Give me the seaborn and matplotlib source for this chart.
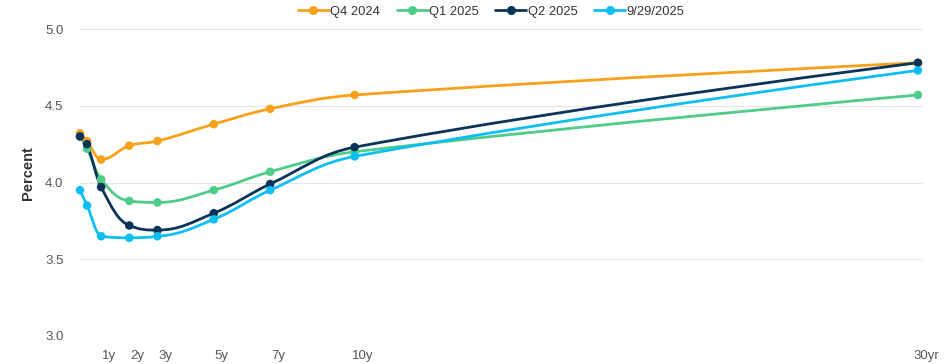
import numpy as np
import pandas as pd
import matplotlib
matplotlib.use("Agg")
import matplotlib.pyplot as plt
import matplotlib.transforms as mtransforms
from matplotlib.path import Path
from matplotlib.patches import PathPatch
from matplotlib.lines import Line2D
import seaborn as sns

maturities = [0.25, 0.5, 1, 2, 3, 5, 7, 10, 30]
q4_2024 = [4.32, 4.27, 4.15, 4.24, 4.27, 4.38, 4.48, 4.57, 4.78]
q1_2025 = [4.30, 4.22, 4.02, 3.88, 3.87, 3.95, 4.07, 4.20, 4.57]
q2_2025 = [4.30, 4.25, 3.97, 3.72, 3.69, 3.80, 3.99, 4.23, 4.78]
sep_2025 = [3.95, 3.85, 3.65, 3.64, 3.65, 3.76, 3.95, 4.17, 4.73]
series_names = ["Q4 2024", "Q1 2025", "Q2 2025", "9/29/2025"]
tick_years = [1, 2, 3, 5, 7, 10, 30]
tick_labels = ["1y", "2y", "3y", "5y", "7y", "10y", "30yr"]
colors = ["#F9A11B", "#4FCB8A", "#0A3558", "#0DBEF5"]

rows = []
for name, vals in zip(series_names, [q4_2024, q1_2025, q2_2025, sep_2025]):
    for m, v in zip(maturities, vals):
        rows.append({"Maturity": m, "Percent": v, "Series": name})
df = pd.DataFrame(rows)

sns.set_theme(style="white")
plt.rcParams["font.family"] = ["Liberation Sans", "DejaVu Sans"]

fig = plt.figure(figsize=(9.49, 3.64), dpi=100)
W, H = 949, 364
ax = fig.add_axes([80 / W, (364 - 336) / H, (923 - 80) / W, (336 - 29) / H])


def spline_path(xs, ys, smoothing=1.5):
    n = len(xs)
    denom = smoothing + 1
    lc = [None] * n
    rc = [None] * n
    for i in range(1, n - 1):
        px, py = xs[i], ys[i]
        lx, ly = xs[i - 1], ys[i - 1]
        nx, ny = xs[i + 1], ys[i + 1]
        lcx = (smoothing * px + lx) / denom
        lcy = (smoothing * py + ly) / denom
        rcx = (smoothing * px + nx) / denom
        rcy = (smoothing * py + ny) / denom
        if rcx != lcx:
            corr = ((rcy - lcy) * (rcx - px)) / (rcx - lcx) + py - rcy
            lcy += corr
            rcy += corr
        if lcy > ly and lcy > py:
            lcy = max(ly, py)
            rcy = 2 * py - lcy
        elif lcy < ly and lcy < py:
            lcy = min(ly, py)
            rcy = 2 * py - lcy
        if rcy > ny and rcy > py:
            rcy = max(ny, py)
            lcy = 2 * py - rcy
        elif rcy < ny and rcy < py:
            rcy = min(ny, py)
            lcy = 2 * py - rcy
        lc[i] = (lcx, lcy)
        rc[i] = (rcx, rcy)
    verts = [(xs[0], ys[0])]
    codes = [Path.MOVETO]
    for i in range(1, n):
        c1 = rc[i - 1] if rc[i - 1] is not None else (xs[i - 1], ys[i - 1])
        c2 = lc[i] if lc[i] is not None else (xs[i], ys[i])
        verts += [c1, c2, (xs[i], ys[i])]
        codes += [Path.CURVE4] * 3
    return Path(verts, codes)


for name, col in zip(series_names, colors):
    sub = df[df["Series"] == name]
    p = spline_path(list(sub["Maturity"]), list(sub["Percent"]))
    ax.add_patch(PathPatch(p, facecolor="none", edgecolor=col, lw=2.0,
                           zorder=3, clip_on=False, capstyle="round", joinstyle="round"))

sns.scatterplot(data=df, x="Maturity", y="Percent", hue="Series",
                palette=colors, hue_order=series_names, s=38, edgecolor="none",
                ax=ax, zorder=4, legend=False, clip_on=False)

ax.set_xlim(0.25, 30.18)
ax.set_ylim(3.0, 5.0)
ax.set_yticks([3.0, 3.5, 4.0, 4.5, 5.0])
ax.set_yticklabels(["3.0", "3.5", "4.0", "4.5", "5.0"])
ax.set_xticks(tick_years)
ax.set_xticklabels(tick_labels)
ax.grid(axis="y", color="#e6e6e6", lw=0.8)
ax.set_axisbelow(True)
for s in ax.spines.values():
    s.set_visible(False)
ax.tick_params(axis="both", length=0, labelsize=9.5, colors="#555555")
ax.tick_params(axis="x", pad=10)
ax.tick_params(axis="y", pad=12)
offset = mtransforms.ScaledTranslation(8 / 100, 0, fig.dpi_scale_trans)
for lab in ax.get_xticklabels():
    lab.set_transform(lab.get_transform() + offset)
ax.set_xlabel("")
ax.set_ylabel("Percent", fontsize=10.5, fontweight="bold", color="#333333")
ax.yaxis.set_label_coords((35 - 80) / 843, (336 - 173) / 307)

handles = [Line2D([0], [0], color=c, lw=2.0, marker="o", markersize=5.5) for c in colors]
leg = fig.legend(handles, series_names, loc="center", bbox_to_anchor=(491 / W, 1 - 12 / H),
                 ncol=4, frameon=False, fontsize=9.3, handlelength=2.4, handletextpad=0.1,
                 columnspacing=1.3)
for t in leg.get_texts():
    t.set_color("#333333")

fig.savefig("out.png", dpi=100)
